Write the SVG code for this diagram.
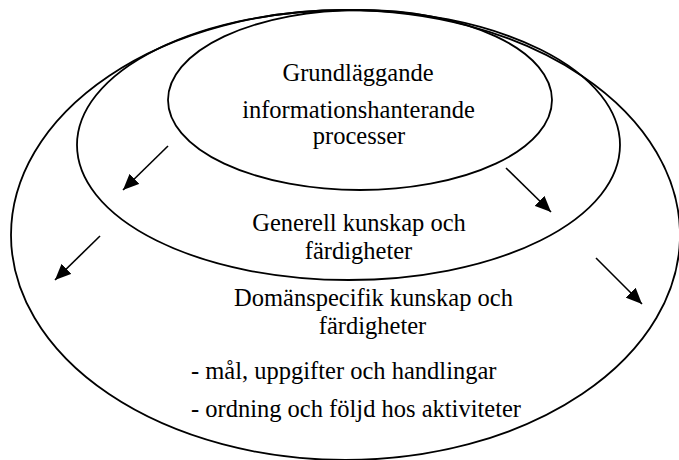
<svg xmlns="http://www.w3.org/2000/svg" width="679" height="460" viewBox="0 0 679 460">
<style>
.ring{fill:none;stroke:#000;stroke-width:1.8}
.arr{fill:none;stroke:#000;stroke-width:1.6;marker-end:url(#ah)}
text{font-family:"Liberation Serif","Times New Roman",serif;font-size:24.5px;fill:#000}
.c{text-anchor:middle}
</style>
<defs>
<marker id="ah" markerUnits="userSpaceOnUse" markerWidth="18" markerHeight="14" refX="16" refY="7" orient="auto">
<path d="M0,0 L16,7 L0,14 Z" fill="#000"/>
</marker>
</defs>
<rect width="679" height="460" fill="#fff"/>
<g id="outer">
<ellipse class="ring" cx="345.5" cy="235" rx="334.5" ry="225"/>
<text class="c" x="373.5" y="306">Domänspecifik kunskap och</text>
<text class="c" x="372.5" y="334">färdigheter</text>
<text x="191" y="379">- mål, uppgifter och handlingar</text>
<text x="191" y="417">- ordning och följd hos aktiviteter</text>
</g>
<g id="middle">
<ellipse class="ring" cx="348.5" cy="145" rx="271.5" ry="135"/>
<text class="c" x="359" y="231">Generell kunskap och</text>
<text class="c" x="358.5" y="259">färdigheter</text>
</g>
<g id="inner">
<ellipse class="ring" cx="360" cy="100" rx="192" ry="90"/>
<text class="c" x="358" y="81">Grundläggande</text>
<text class="c" x="358.5" y="118">informationshanterande</text>
<text class="c" x="359" y="144">processer</text>
</g>
<g id="connectors">
<line class="arr" x1="168" y1="146" x2="123" y2="190"/>
<line class="arr" x1="506" y1="168" x2="551" y2="212"/>
<line class="arr" x1="100" y1="236" x2="55" y2="280"/>
<line class="arr" x1="596" y1="258" x2="642" y2="304"/>
</g>
</svg>
